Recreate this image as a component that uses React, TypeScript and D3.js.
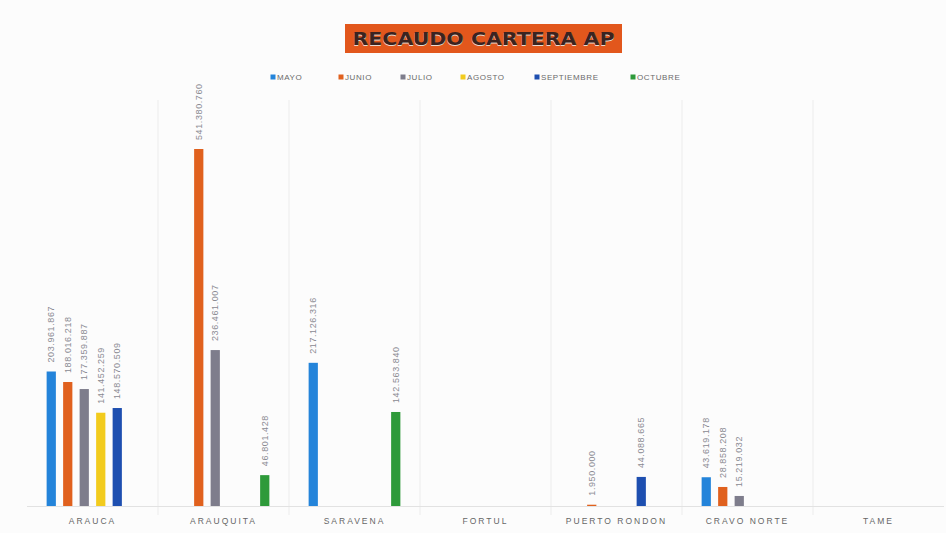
import React from "react";
import * as d3 from "d3";

const categories = ["ARAUCA", "ARAUQUITA", "SARAVENA", "FORTUL", "PUERTO RONDON", "CRAVO NORTE", "TAME"];
const months = ["MAYO", "JUNIO", "JULIO", "AGOSTO", "SEPTIEMBRE", "OCTUBRE"];
const mayo = [203961867, null, 217126316, null, null, 43619178, null];
const junio = [188016218, 541380760, null, null, 1950000, 28858208, null];
const julio = [177359887, 236461007, null, null, null, 15219032, null];
const agosto = [141452259, null, null, null, null, null, null];
const septiembre = [148570509, null, null, null, 44088665, null, null];
const octubre = [null, 46801428, 142563840, null, null, null, null];
const title = "RECAUDO CARTERA AP";

const seriesValues = [mayo, junio, julio, agosto, septiembre, octubre];
const colors = ["#2484DA", "#E0611E", "#7E7D8C", "#F2CB1D", "#1E4FB0", "#2E9A3A"];

const W = 946;
const H = 533;

export default function App() {
  const x0 = d3.scaleBand<string>().domain(categories).range([27, 944]);
  const x1 = d3.scaleBand<string>().domain(months).range([16, 115]);
  const barW = x1.bandwidth() * 0.56;
  const y = d3.scaleLinear().domain([0, 541380760]).range([506, 149]);
  const fmt = (v: number) => d3.format(",")(v).replace(/,/g, ".");

  const boundaries = categories.slice(1).map((c) => x0(c) as number);
  const legendX = [273, 341, 403, 463, 537, 633];

  return (
    <div style={{ position: "fixed", left: 0, top: 0 }}>
      <svg width={W} height={H} style={{ display: "block", background: "#fdfdfd" }}>
        <rect x={0} y={0} width={W} height={H} fill="#fcfcfc" />
        {/* faint vertical grid */}
        {boundaries.map((bx, i) => (
          <line key={i} x1={bx} x2={bx} y1={100} y2={515} stroke="#ececec" strokeWidth={1} />
        ))}
        <line x1={27} x2={944} y1={506.5} y2={506.5} stroke="#e2e2e2" strokeWidth={1} />

        {/* title */}
        <rect x={345} y={24} width={277} height={29} fill="#E2571C" />
        <text
          x={483.5}
          y={46}
          textAnchor="middle"
          fontFamily="DejaVu Sans, sans-serif"
          fontWeight="bold"
          fontSize={18}
          fill="#eadad0"
          textLength={262}
          lengthAdjust="spacingAndGlyphs"
        >
          {title}
        </text>
        <text
          x={483.5}
          y={44.5}
          textAnchor="middle"
          fontFamily="DejaVu Sans, sans-serif"
          fontWeight="bold"
          fontSize={18}
          fill="#3b2320"
          textLength={262}
          lengthAdjust="spacingAndGlyphs"
        >
          {title}
        </text>

        {/* legend */}
        {months.map((m, i) => (
          <g key={m} transform={`translate(${legendX[i]},77)`}>
            <rect x={-2.5} y={-2.5} width={5} height={5} fill={colors[i]} />
            <text x={4} y={3} fontSize={8} fontFamily="Liberation Sans Narrow, Liberation Sans, sans-serif" fill="#6a6a6a" letterSpacing={0.6}>
              {m}
            </text>
          </g>
        ))}

        {/* bars */}
        {categories.map((c, ci) => (
          <g key={c} transform={`translate(${x0(c)},0)`}>
            {months.map((m, si) => {
              const v = seriesValues[si][ci];
              if (v == null) return null;
              const cx = (x1(m) as number) + x1.bandwidth() / 2;
              const top = y(v);
              return (
                <g key={m}>
                  <rect x={cx - barW / 2} y={top} width={barW} height={y(0) - top} fill={colors[si]} />
                  <text
                    transform={`translate(${cx + 3},${top - 9}) rotate(-90)`}
                    fontSize={9}
                    fontFamily="Liberation Sans, sans-serif"
                    fill="#8a8a92"
                    letterSpacing={0.6}
                  >
                    {fmt(v)}
                  </text>
                </g>
              );
            })}
            <text
              x={x0.bandwidth() / 2}
              y={524}
              textAnchor="middle"
              fontSize={8.5}
              fontFamily="Liberation Sans, sans-serif"
              fill="#666"
              letterSpacing={2}
            >
              {c}
            </text>
          </g>
        ))}
      </svg>
    </div>
  );
}
